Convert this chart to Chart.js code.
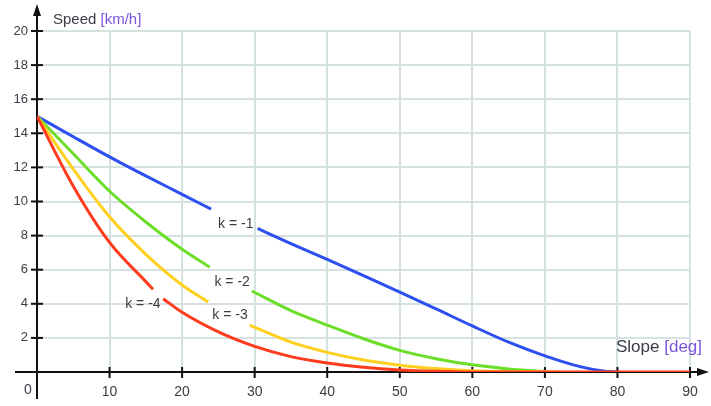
<!DOCTYPE html>
<html>
<head>
<meta charset="utf-8">
<script src="https://cdn.jsdelivr.net/npm/chart.js@4"></script>
<style>
  html, body { margin: 0; padding: 0; background: #ffffff; }
  #wrap { width: 711px; height: 406px; position: relative; }
</style>
</head>
<body>
<div id="wrap"><canvas id="c" width="711" height="406"></canvas></div>
<script>
// ---- data ----
const slopeBlue   = [0, 5, 10, 15, 20, 24, 27, 30.4, 35, 40, 45, 50, 55, 60, 65, 70, 75, 78, 80];
const speedBlue   = [15, 13.8, 12.62, 11.5, 10.42, 9.55, null, 8.42, 7.53, 6.6, 5.65, 4.68, 3.7, 2.7, 1.75, 0.95, 0.3, 0.06, 0];

const slopeGreen  = [0, 5, 10, 15, 20, 23.8, 27, 29.6, 35, 40, 45, 50, 55, 60, 65, 70];
const speedGreen  = [15, 12.8, 10.6, 8.8, 7.2, 6.15, null, 4.75, 3.6, 2.75, 1.95, 1.27, 0.78, 0.42, 0.18, 0.03];

const slopeYellow = [0, 5, 10, 15, 20, 23.6, 26.5, 29.3, 35, 40, 45, 50, 55, 60, 65, 72];
const speedYellow = [15, 11.9, 9.1, 6.9, 5.1, 4.1, null, 2.75, 1.75, 1.15, 0.7, 0.4, 0.2, 0.08, 0.03, 0];

const slopeRed    = [0, 5, 10, 15, 16, 16.7, 17.4, 20, 25, 30, 35, 40, 45, 50, 55, 60, 70, 80, 90];
const speedRed    = [15, 10.9, 7.6, 5.3, 4.85, null, 4.3, 3.5, 2.35, 1.5, 0.9, 0.53, 0.28, 0.12, 0.04, 0, 0, 0, 0];

const curveLabels = ['k = -4', 'k = -3', 'k = -2', 'k = -1'];
const labelSlope  = [14.6, 26.6, 26.9, 27.4];
const labelSpeed  = [3.98, 3.33, 5.26, 8.65];

const xTickValues = [0, 10, 20, 30, 40, 50, 60, 70, 80, 90];
const yTickValues = [0, 2, 4, 6, 8, 10, 12, 14, 16, 18, 20];

const xTitle = ['Slope ', '[deg]'];
const yTitle = ['Speed ', '[km/h]'];

// ---- helpers ----
function pts(xs, ys) { return xs.map((x, i) => ({ x: x, y: ys[i] })); }

const FONT = 'Arial, "Liberation Sans", sans-serif';
const TEXT = '#3c3c46';
const UNIT = '#7a55dc';

const decor = {
  id: 'decor',
  beforeDatasetsDraw(chart) {
    const ctx = chart.ctx;
    const xs = chart.scales.x, ys = chart.scales.y;
    const x0 = xs.getPixelForValue(0), y0 = ys.getPixelForValue(0);
    ctx.save();
    ctx.strokeStyle = '#111';
    ctx.fillStyle = '#111';
    ctx.lineWidth = 2;
    ctx.beginPath();
    ctx.moveTo(x0, 12);
    ctx.lineTo(x0, 399);
    ctx.stroke();
    ctx.beginPath();
    ctx.moveTo(15, y0);
    ctx.lineTo(702, y0);
    ctx.stroke();
    ctx.beginPath();
    ctx.moveTo(x0, 4); ctx.lineTo(x0 - 4, 16); ctx.lineTo(x0 + 4, 16); ctx.closePath();
    ctx.fill();
    ctx.beginPath();
    ctx.moveTo(709, y0); ctx.lineTo(697, y0 - 4); ctx.lineTo(697, y0 + 4); ctx.closePath();
    ctx.fill();
    yTickValues.forEach(v => {
      if (v === 0) return;
      const py = ys.getPixelForValue(v);
      ctx.beginPath(); ctx.moveTo(x0 - 6, py); ctx.lineTo(x0 + 6, py); ctx.stroke();
    });
    xTickValues.forEach(v => {
      if (v === 0) return;
      const px = xs.getPixelForValue(v);
      ctx.beginPath(); ctx.moveTo(px, y0 - 5); ctx.lineTo(px, y0 + 6); ctx.stroke();
    });
    ctx.restore();
  },
  afterDraw(chart) {
    const ctx = chart.ctx;
    const xs = chart.scales.x, ys = chart.scales.y;
    const x0 = xs.getPixelForValue(0), y0 = ys.getPixelForValue(0);
    ctx.save();
    ctx.font = '14px ' + FONT;
    ctx.fillStyle = TEXT;
    ctx.textAlign = 'center';
    ctx.textBaseline = 'middle';
    ctx.fillText('0', x0 - 9, y0 + 18);
    // axis titles
    ctx.font = '15px ' + FONT;
    ctx.textAlign = 'left';
    let tx = x0 + 16, ty = 20;
    ctx.fillStyle = TEXT; ctx.fillText(yTitle[0], tx, ty);
    tx += ctx.measureText(yTitle[0]).width;
    ctx.fillStyle = UNIT; ctx.fillText(yTitle[1], tx, ty);
    ctx.font = '17px ' + FONT;
    tx = 616; ty = y0 - 25;
    ctx.fillStyle = TEXT; ctx.fillText(xTitle[0], tx, ty);
    tx += ctx.measureText(xTitle[0]).width;
    ctx.fillStyle = UNIT; ctx.fillText(xTitle[1], tx, ty);
    // curve labels
    ctx.font = '14px ' + FONT;
    ctx.textAlign = 'center';
    ctx.fillStyle = TEXT;
    curveLabels.forEach((t, i) => {
      ctx.fillText(t, xs.getPixelForValue(labelSlope[i]), ys.getPixelForValue(labelSpeed[i]));
    });
    ctx.restore();
  }
};

const common = { borderWidth: 3, pointRadius: 0, fill: false, spanGaps: false, cubicInterpolationMode: 'monotone' };

new Chart(document.getElementById('c'), {
  type: 'line',
  data: {
    datasets: [
      Object.assign({ label: 'k = -4', data: pts(slopeRed, speedRed), borderColor: '#ff3b1e' }, common),
      Object.assign({ label: 'k = -3', data: pts(slopeYellow, speedYellow), borderColor: '#ffd01e' }, common),
      Object.assign({ label: 'k = -2', data: pts(slopeGreen, speedGreen), borderColor: '#6cde2a' }, common),
      Object.assign({ label: 'k = -1', data: pts(slopeBlue, speedBlue), borderColor: '#2c4ff0' }, common)
    ]
  },
  options: {
    responsive: false,
    animation: false,
    layout: { padding: { left: 0, top: 31, right: 21, bottom: 0 } },
    plugins: { legend: { display: false }, tooltip: { enabled: false } },
    scales: {
      x: {
        type: 'linear', min: 0, max: 90,
        afterBuildTicks: s => { s.ticks = xTickValues.map(v => ({ value: v })); },
        afterFit: s => { s.height = 34; },
        border: { display: false },
        grid: { color: '#d6e1e1', lineWidth: 2, drawTicks: false },
        ticks: {
          padding: 12, color: TEXT, font: { family: FONT, size: 14 },
          maxRotation: 0, autoSkip: false,
          callback: v => (v === 0 ? '' : String(v))
        }
      },
      y: {
        type: 'linear', min: 0, max: 20,
        afterBuildTicks: s => { s.ticks = yTickValues.map(v => ({ value: v })); },
        afterFit: s => { s.width = 37; },
        border: { display: false },
        grid: { color: '#d6e1e1', lineWidth: 2, drawTicks: false },
        ticks: {
          padding: 9, color: TEXT, font: { family: FONT, size: 13 },
          callback: v => (v === 0 ? '' : String(v))
        }
      }
    }
  },
  plugins: [decor]
});
</script>
</body>
</html>
